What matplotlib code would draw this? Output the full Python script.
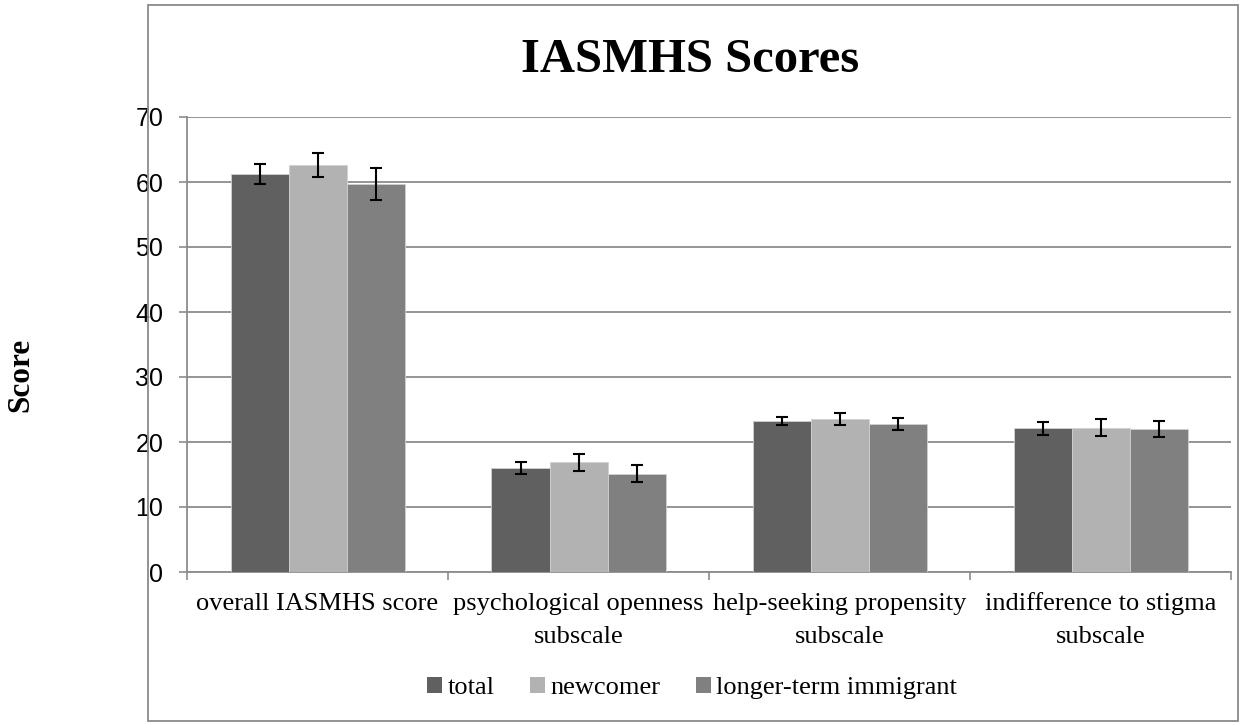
import numpy as np
import matplotlib
matplotlib.use("Agg")
import matplotlib.pyplot as plt
from matplotlib.patches import Rectangle, Patch
from matplotlib.transforms import blended_transform_factory

categories = ["overall IASMHS score", "psychological openness\nsubscale",
              "help-seeking propensity\nsubscale", "indifference to stigma\nsubscale"]
series_names = ["total", "newcomer", "longer-term immigrant"]
total = [61.2, 16.0, 23.2, 22.1]
newcomer = [62.6, 16.9, 23.5, 22.2]
longer = [59.7, 15.1, 22.8, 22.0]
total_err = [1.55, 0.95, 0.65, 0.95]
newcomer_err = [1.9, 1.3, 0.9, 1.35]
longer_err = [2.45, 1.3, 0.9, 1.3]
yticks = [0, 10, 20, 30, 40, 50, 60, 70]
colors = ["#606060", "#b2b2b2", "#808080"]

W, H = 1253, 725
fig = plt.figure(figsize=(W / 100, H / 100), dpi=100)

# chart border
fig.patches.append(Rectangle((148 / W, 1 - 721 / H), (1238 - 148) / W, (721 - 5) / H,
                             transform=fig.transFigure, fill=False,
                             edgecolor="#8a8a8a", linewidth=1.3))

ax = fig.add_axes([187 / W, 1 - 572 / H, (1231 - 187) / W, (572 - 117) / H])
grid_c = "#8c8c8c"

n = len(categories)
x = np.arange(n) + 0.5
bw = 2 / 9
vals = [total, newcomer, longer]
errs = [total_err, newcomer_err, longer_err]
for i, (v, e) in enumerate(zip(vals, errs)):
    xs = x + (i - 1) * bw
    ax.bar(xs, v, width=bw, color=colors[i], edgecolor="#d0d0d0", linewidth=0.6,
           zorder=3, label=series_names[i])
    ax.errorbar(xs, v, yerr=e, fmt="none", ecolor="black", elinewidth=1.5,
                capsize=4.5, capthick=1.5, zorder=4)

ax.set_xlim(0, n)
ax.set_ylim(0, 70)
ax.set_yticks(yticks)
ax.set_yticklabels([str(t) for t in yticks], family="Liberation Sans", fontsize=18)
ax.tick_params(axis="y", length=6, width=1.2, color=grid_c, pad=11)
ax.set_xticks(np.arange(n + 1))
ax.set_xticklabels([])
ax.tick_params(axis="x", length=5.5, width=1.2, color=grid_c, direction="out")
ax.yaxis.grid(True, color=grid_c, linewidth=1.3, zorder=0)
ax.set_axisbelow(True)
for s in ["top", "right"]:
    ax.spines[s].set_visible(False)
for s in ["left", "bottom"]:
    ax.spines[s].set_color(grid_c)
    ax.spines[s].set_linewidth(1.3)

# category labels
trans = blended_transform_factory(ax.transData, fig.transFigure)
for xi, lab in zip(x, categories):
    for j, line in enumerate(lab.split("\n")):
        ax.text(xi, 1 - (610 + 33 * j) / H, line, transform=trans, ha="center",
                va="baseline", family="Liberation Serif", fontsize=19)

fig.text(690 / W, 1 - 72 / H, "IASMHS Scores", ha="center", va="baseline",
         family="Liberation Serif", fontweight="bold", fontsize=35)
fig.text(21 / W, 1 - 375 / H, "Score", rotation=90, ha="center", va="center",
         family="Liberation Serif", fontweight="bold", fontsize=22.5)

handles = [Patch(facecolor=c, edgecolor="none") for c in colors]
fig.legend(handles, series_names, loc="center", bbox_to_anchor=(692 / W, 1 - 688 / H),
           ncol=3, frameon=False, prop={"family": "Liberation Serif", "size": 19},
           handlelength=0.57, handleheight=0.57, handletextpad=0.2, columnspacing=1.35,
           borderpad=0, borderaxespad=0)

fig.savefig("out.png", dpi=100)
